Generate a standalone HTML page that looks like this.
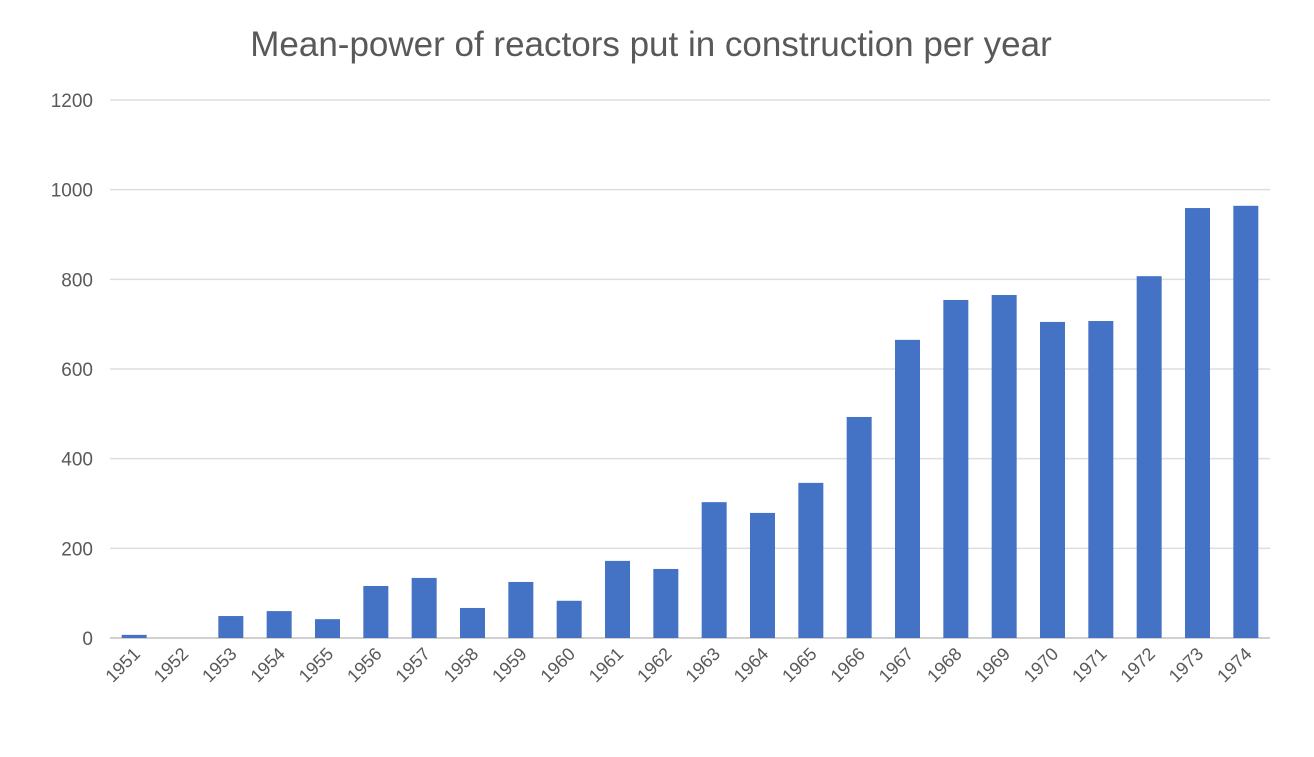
<!DOCTYPE html>
<html><head><meta charset="utf-8"><style>
html,body{margin:0;padding:0;background:#fff;}
svg{display:block;font-family:"Liberation Sans",sans-serif;}
</style></head><body>
<svg id="chart" width="1314" height="757" viewBox="0 0 1314 757">
<rect width="1314" height="757" fill="#fff"/>
<text x="651" y="56" text-anchor="middle" font-size="35" fill="#595959">Mean-power of reactors put in construction per year</text>
<g id="grid"></g><g id="bars"></g><g id="xlabels"></g><g id="ylabels"></g>
</svg>
<script>
const categories=["1951","1952","1953","1954","1955","1956","1957","1958","1959","1960","1961","1962","1963","1964","1965","1966","1967","1968","1969","1970","1971","1972","1973","1974"];
const values=[7,0,49,60,42,116,134,67,125,83,172,154,303,279,346,493,665,754,765,705,707,807,959,964];
const yTicks=[0,200,400,600,800,1000,1200];
const NS="http://www.w3.org/2000/svg";
const x0=110,x1=1270,yBase=638,yTop=100,yMax=1200;
const step=(x1-x0)/categories.length;
function xc(i){return x0+step*(i+0.5);}
function y(v){return yBase-(v/yMax)*(yBase-yTop);}
const grid=document.getElementById('grid'),bars=document.getElementById('bars'),xl=document.getElementById('xlabels'),yl=document.getElementById('ylabels');
yTicks.forEach(t=>{
 const l=document.createElementNS(NS,'line');
 l.setAttribute('x1',x0);l.setAttribute('x2',x1);l.setAttribute('y1',y(t));l.setAttribute('y2',y(t));
 l.setAttribute('stroke',t===0?'#d0d0d0':'#dedede');l.setAttribute('stroke-width',t===0?2:1.5);
 
 
 grid.appendChild(l);
 const tx=document.createElementNS(NS,'text');
 tx.setAttribute('x',93);tx.setAttribute('y',y(t)+7);tx.setAttribute('text-anchor','end');
 tx.setAttribute('font-size','19');tx.setAttribute('fill','#595959');tx.textContent=t;
 
 
 yl.appendChild(tx);
});
categories.forEach((c,i)=>{
 const w=25;
 const r=document.createElementNS(NS,'rect');
 r.setAttribute('x',xc(i)-w/2);r.setAttribute('width',w);
 r.setAttribute('y',y(values[i]));r.setAttribute('height',yBase-y(values[i]));
 r.setAttribute('fill','#4472c4');
 
 
 bars.appendChild(r);
 const t=document.createElementNS(NS,'text');
 const lx=xc(i)+7,ly=655;
 t.setAttribute('x',lx);t.setAttribute('y',ly);t.setAttribute('text-anchor','end');
 t.setAttribute('font-size','18');t.setAttribute('fill','#595959');
 t.setAttribute('transform','rotate(-45 '+lx+' '+ly+')');
 t.textContent=c;
 
 
 xl.appendChild(t);
});
</script>
</body></html>
